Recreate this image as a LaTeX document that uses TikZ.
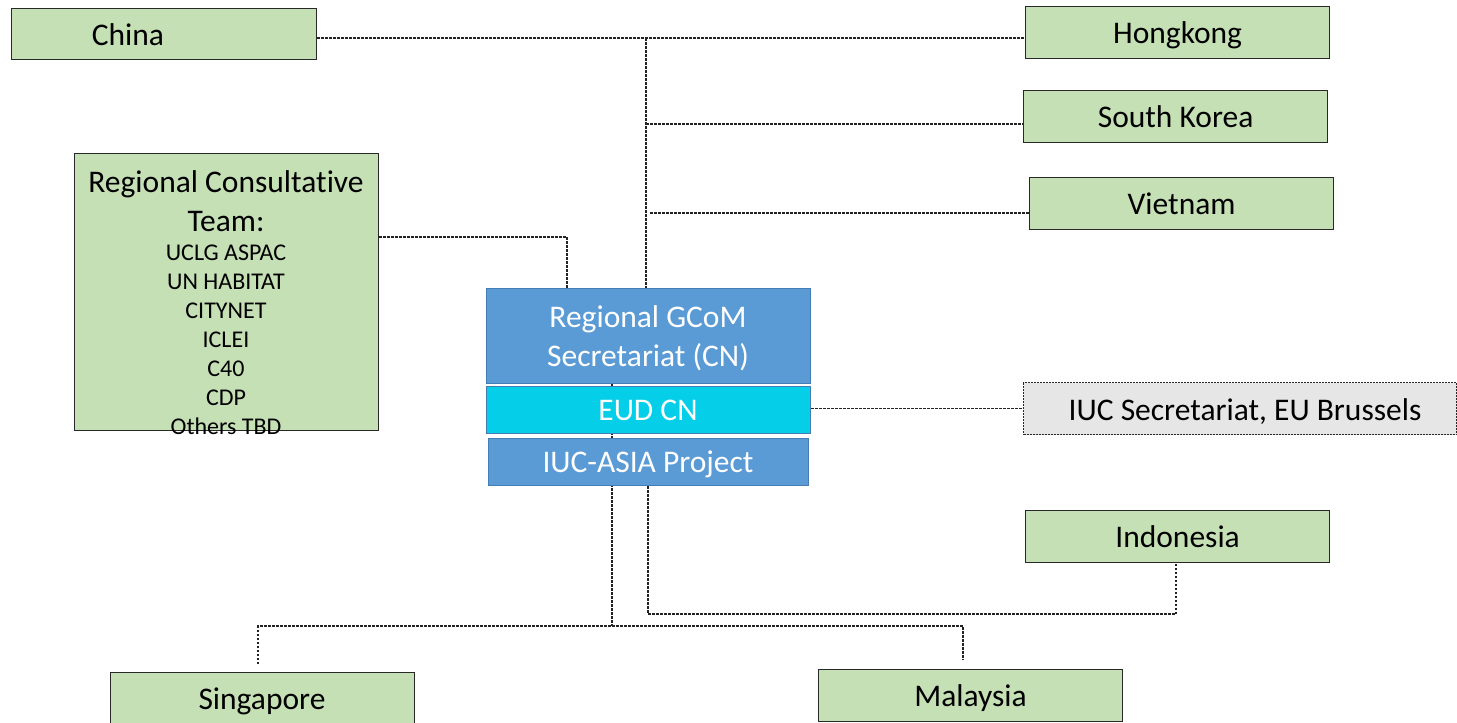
\documentclass[tikz,border=0pt]{standalone}
\usepackage{fontspec}
\setmainfont{Carlito}[Ligatures=NoCommon]
\usetikzlibrary{backgrounds,calc}
\definecolor{gfill}{RGB}{197,224,180}
\definecolor{bfill}{RGB}{91,155,213}
\definecolor{bborder}{RGB}{70,125,180}
\definecolor{cfill}{RGB}{5,206,232}
\definecolor{grayfill}{RGB}{231,230,230}
\definecolor{edge}{RGB}{40,40,40}
\definecolor{conn}{RGB}{35,35,35}
\tikzset{
  box/.style={draw=edge, line width=1.2pt, anchor=north west, inner sep=0pt, fill=gfill,
    font=\fontsize{31.5}{38}\selectfont, text height=22pt, text depth=0pt},
  bluebox/.style={draw=bborder, line width=1pt, anchor=north west, inner sep=0pt, fill=bfill,
    text=white, font=\fontsize{31.5}{38}\selectfont},
  txt/.style={font=\fontsize{31.5}{38}\selectfont, anchor=base, inner sep=0pt},
  smalltxt/.style={font=\fontsize{24}{29}\selectfont, anchor=base, inner sep=0pt},
  conline/.style={draw=conn, line width=1.1pt, dash pattern=on 2.5pt off 1.5pt},
}
\begin{document}
\begin{tikzpicture}[x=1pt,y=-1pt]
\useasboundingbox (0,0) rectangle (1457,723);
% boxes
\node[box, minimum width=305pt, minimum height=51pt] (china) at (11,8) {};
\node[txt] (chinatxt) at (128,45) {China};
\node[box, minimum width=304pt, minimum height=52pt] (hk) at (1025,6) {Hongkong};
\node[box, minimum width=304pt, minimum height=52pt] (sk) at (1023,90) {South Korea};
\node[box, minimum width=304pt, minimum height=52pt] (vn) at (1029,177) {Vietnam};
\node[box, minimum width=304pt, minimum height=277pt] (rct) at (74,153) {};
\node[txt] (r1t) at (226,192) {Regional Consultative};
\node[txt] (r2t) at (226,231) {Team:};
\node[smalltxt] (r3t) at (226,260) {UCLG ASPAC};
\node[smalltxt] (r4t) at (226,289) {UN HABITAT};
\node[smalltxt] (r5t) at (226,318) {CITYNET};
\node[smalltxt] (r6t) at (226,347) {ICLEI};
\node[smalltxt] (r7t) at (226,376) {C40};
\node[smalltxt] (r8t) at (226,405) {CDP};
\node[smalltxt] (r9t) at (226,434) {Others TBD};
\node[bluebox, minimum width=324pt, minimum height=95pt] (gcom) at (486,288) {};
\node[txt, text=white] (g1t) at (648,327) {Regional GCoM};
\node[txt, text=white] (g2t) at (648,366) {Secretariat (CN)};
\node[bluebox, fill=cfill, minimum width=324pt, minimum height=47pt] (eud) at (486,386) {};
\node[txt, text=white] (eudt) at (648,420) {EUD CN};
\node[bluebox, minimum width=320pt, minimum height=47pt] (iuc) at (488,438) {};
\node[txt, text=white] (iuct) at (648,472) {IUC-ASIA Project};
\node[box, fill=grayfill, draw=edge, line width=1pt, dash pattern=on 2pt off 1pt,
  minimum width=433pt, minimum height=52pt] (bru) at (1023,382) {};
\node[txt] (brut) at (1245,420) {IUC Secretariat, EU Brussels};
\node[box, minimum width=304pt, minimum height=52pt] (indo) at (1025,510) {Indonesia};
\node[box, minimum width=304pt, minimum height=60pt] (sing) at (110,672) {};
\node[txt] (singt) at (262,709) {Singapore};
\node[box, minimum width=304pt, minimum height=52pt] (malay) at (818,669) {Malaysia};
% helper coordinates
\coordinate (t1) at (646,38);
\coordinate (t2) at (646,124);
\coordinate (t3) at (650,213);
\coordinate (rc) at (567,237);
\coordinate (b1) at (612,626);
\coordinate (sL) at (258,664);
\coordinate (sR) at (963,660);
\coordinate (i1) at (648,614);
\coordinate (i2) at (1176,562);
% connectors
\begin{scope}[on background layer]
\draw[conline] (china.east |- t1) -- (hk.west |- t1);
\draw[conline] (t1) -- (t1 |- gcom.north);
\draw[conline] (t2) -- (t2 -| sk.west);
\draw[conline] (t3) -- (t3 -| vn.west);
\draw[conline] (rct.east |- rc) -- (rc) -- (rc |- gcom.north);
\draw[conline] (eud.east |- bru.west) -- (bru.west);
\draw[conline] (b1 |- gcom.south) -- (b1);
\draw[conline] (sL) -- (sL |- b1) -- (sR |- b1) -- (sR);
\draw[conline] (i1 |- iuc.south) -- (i1) -- (i2 |- i1) -- (i2);
\end{scope}
\end{tikzpicture}
\end{document}
